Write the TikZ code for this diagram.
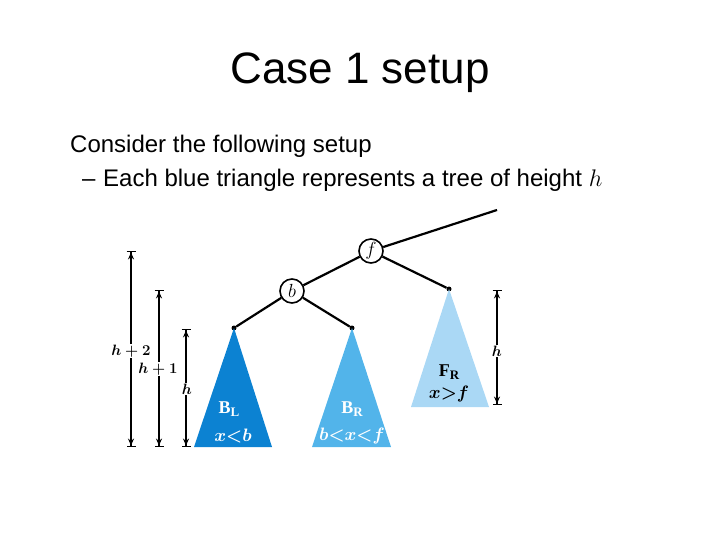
\RequirePackage{fix-cm}
\documentclass[tikz,border=0pt]{standalone}
\usepackage{fontspec}
\setmainfont{Liberation Sans}
\newfontfamily\labelfont{Liberation Serif}
\usepackage{amsmath}
\usetikzlibrary{arrows.meta}
\definecolor{treeBL}{RGB}{12,130,210}
\definecolor{treeBR}{RGB}{82,180,234}
\definecolor{treeFR}{RGB}{170,216,245}
\newcommand{\treename}[2]{{\labelfont\bfseries #1\raisebox{-3pt}{\fontsize{13}{13}\selectfont #2}}}
\begin{document}
\begin{tikzpicture}[x=1pt,y=-1pt]
                \tikzstyle{key}=[circle, draw, line width=1.6pt, fill=white, minimum size=24pt, inner sep=0pt, font=\fontsize{19}{19}\selectfont]
                \tikzstyle{leaf}=[circle, fill=black, minimum size=5pt, inner sep=0pt]
                \tikzstyle{branch}=[line width=2.2pt]
                \tikzstyle{dim}=[line width=1.2pt, {Bar[width=9pt,line width=1.4pt]Stealth[length=7pt,width=6pt]}-{Stealth[length=7pt,width=6pt]Bar[width=9pt,line width=1.4pt]}]
                \tikzstyle{dimlabel}=[fill=white, inner sep=1pt, font=\fontsize{15}{15}\selectfont\boldmath]
                \tikzstyle{treelabel}=[inner sep=0pt, font=\fontsize{18}{18}\selectfont\boldmath]
                \useasboundingbox (0,0) rectangle (720,540);
                \node[anchor=base] (title) at (360,84) {\fontsize{44}{50}\selectfont Case 1 setup};
                \node[anchor=base west, inner sep=0pt] (intro) at (70,153) {\fontsize{24}{28}\selectfont Consider the following setup};
                \node[anchor=base west, inner sep=0pt] (dash) at (82,187) {\fontsize{24}{28}\selectfont --};
                \node[anchor=base west, inner sep=0pt] (item) at (103,187) {\fontsize{24}{28}\selectfont Each blue triangle represents a tree of height $h$};
                \coordinate (top) at (497,210);
                \node[key] (f) at (371,251) {$f$};
                \node[key] (b) at (292,291) {$b$};
                \node[leaf] (bl) at (234,328) {};
                \node[leaf] (br) at (352,328) {};
                \node[leaf] (fr) at (449,289) {};
                \fill[treeBL] (bl.center) -- (194,447) -- (272,447) -- cycle;
                \fill[treeBR] (br.center) -- (312,447) -- (391,447) -- cycle;
                \fill[treeFR] (fr.center) -- (411,407) -- (489,407) -- cycle;
                \draw[branch] (f) -- (top);
                \draw[branch] (f) -- (b);
                \draw[branch] (f) -- (fr);
                \draw[branch] (b) -- (bl);
                \draw[branch] (b) -- (br);
                \node[treelabel, text=white] (blname) at (229,409) {\treename{B}{L}};
                \node[treelabel, text=white] (blrange) at (233,436) {$x{<}b$};
                \node[treelabel, text=white] (brname) at (352,409) {\treename{B}{R}};
                \node[treelabel, text=white] (brrange) at (352,436) {$b{<}x{<}f$};
                \node[treelabel] (frname) at (449,372) {\treename{F}{R}};
                \node[treelabel] (frrange) at (449,394) {$x{>}f$};
                \coordinate (d2t) at (131,251);
                \coordinate (d2b) at (131,447);
                \coordinate (d1t) at (159,290);
                \coordinate (d1b) at (159,447);
                \coordinate (d0t) at (186,329);
                \coordinate (d0b) at (186,447);
                \coordinate (drt) at (497,290);
                \coordinate (drb) at (497,405);
                \draw[dim] (d2t) -- (d2b);
                \draw[dim] (d1t) -- (d1b);
                \draw[dim] (d0t) -- (d0b);
                \draw[dim] (drt) -- (drb);
                \node[dimlabel] (d2) at (131,351) {$h+2$};
                \node[dimlabel] (d1) at (158,369) {$h+1$};
                \node[dimlabel] (d0) at (187,389) {$h$};
                \node[dimlabel] (dr) at (497,351) {$h$};
            \end{tikzpicture}
\end{document}
